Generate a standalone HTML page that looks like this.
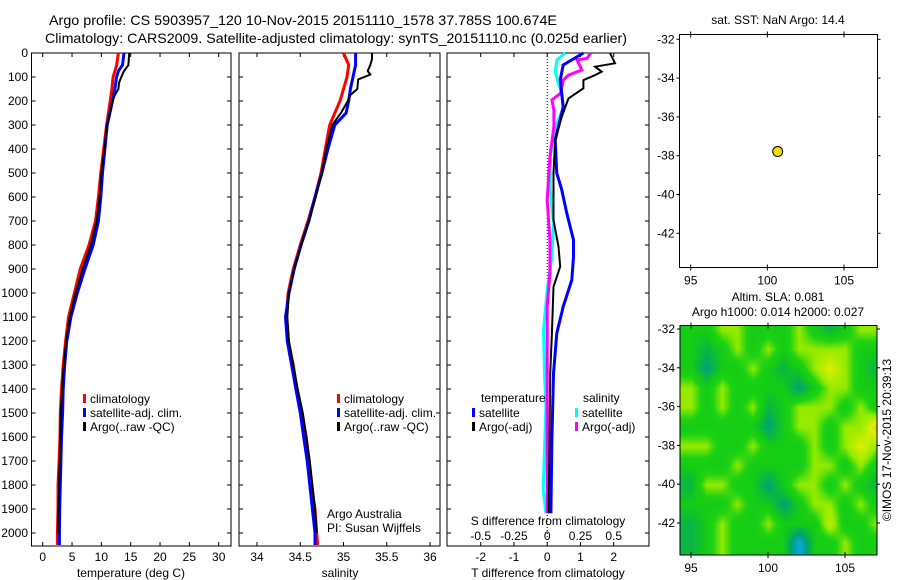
<!DOCTYPE html>
<html><head><meta charset="utf-8"><style>
html,body{margin:0;padding:0;background:#fff;}
svg{display:block;font-family:"Liberation Sans",sans-serif;}
text{fill:#000;}
</style></head><body>
<svg id="fig" width="900" height="580" viewBox="0 0 900 580" xmlns="http://www.w3.org/2000/svg">
<rect width="900" height="580" fill="#fff"/>
<text x="49" y="25" font-size="14" textLength="508" lengthAdjust="spacingAndGlyphs">Argo profile: CS 5903957_120 10-Nov-2015 20151110_1578 37.785S 100.674E</text>
<text x="45" y="43" font-size="14" textLength="582" lengthAdjust="spacingAndGlyphs">Climatology: CARS2009. Satellite-adjusted climatology: synTS_20151110.nc (0.025d earlier)</text>
<text x="778" y="24" font-size="12" text-anchor="middle">sat. SST: NaN Argo: 14.4</text>
<text x="778" y="301" font-size="12" text-anchor="middle">Altim. SLA: 0.081</text>
<text x="778" y="316" font-size="12" text-anchor="middle">Argo h1000: 0.014 h2000: 0.027</text>
<text transform="translate(891,440) rotate(-90)" font-size="12" text-anchor="middle">©IMOS 17-Nov-2015 20:39:13</text>
<text x="327" y="518" font-size="12">Argo Australia</text>
<text x="327" y="532" font-size="12">PI: Susan Wijffels</text>
<g id="g"></g>
</svg>
<script>
// ---- data ----
var tDepth = [0,50,75,100,150,200,300,400,500,600,700,800,900,1000,1100,1200,1300,1400,1500,1600,1700,1800,1900,2000,2050];
var tClim  = [12.9,12.6,12.3,12.0,11.8,11.5,10.9,10.4,9.9,9.5,9.0,7.9,6.4,5.4,4.4,3.9,3.5,3.2,3.0,2.95,2.8,2.6,2.6,2.5,2.5];
var tSat   = [13.85,13.6,12.9,12.6,12.3,11.9,11.0,10.6,10.2,9.9,9.5,8.6,7.2,5.9,4.8,4.1,3.75,3.5,3.4,3.2,3.1,3.0,2.9,2.85,2.85];
var argoDepth = [0,50,75,100,125,150,175,200,250,300,400,500,600,700,800,900,1000,1100,1200,1300,1400,1500,1600,1700,1800,1900,2000];
var tArgo  = [14.75,14.6,13.85,13.4,13.0,12.9,12.3,11.9,11.5,11.0,10.5,10.0,9.7,9.2,8.2,6.8,5.6,4.6,4.0,3.6,3.3,3.1,3.0,2.9,2.8,2.7,2.6];
var sDepth = [0,50,100,150,200,250,300,400,500,600,700,800,900,1000,1100,1200,1300,1400,1500,1600,1700,1800,1900,2000,2050];
var sClim  = [35.00,35.06,35.04,35.00,34.96,34.90,34.84,34.79,34.74,34.67,34.59,34.50,34.42,34.36,34.34,34.36,34.42,34.46,34.52,34.57,34.60,34.63,34.67,34.69,34.70];
var sSat   = [35.14,35.14,35.11,35.08,35.06,35.03,34.90,34.82,34.75,34.67,34.60,34.51,34.43,34.37,34.33,34.35,34.40,34.45,34.50,34.54,34.58,34.61,34.64,34.67,34.67];
var sArgoDepth = [0,25,50,75,90,110,150,175,200,250,300,400,500,600,700,800,900,1000,1100,1200,1300,1400,1500,1600,1700,1800,1900,2000];
var sArgo  = [35.33,35.33,35.31,35.28,35.31,35.17,35.16,35.08,35.05,34.97,34.87,34.80,34.75,34.68,34.60,34.51,34.43,34.37,34.35,34.37,34.42,34.47,34.53,34.57,34.61,34.64,34.67,34.69];
var dtSatDepth = [0,50,113,224,363,501,571,668,779,849,946,1057,1168,1335,1613,1918];
var dtSat      = [1.09,0.48,0.39,0.48,0.24,0.29,0.44,0.59,0.79,0.79,0.74,0.48,0.29,0.19,0.14,0.11];
var dtArgoDepth = [0,43,57,78,92,113,147,189,265,363,501,696,807,890,974,1168,1335,1613,1918];
var dtArgo      = [1.89,2.04,1.44,1.64,1.44,1.09,1.09,0.64,0.44,0.24,0.19,0.19,0.34,0.39,0.19,0.14,0.09,0.07,0.04];
var dsSatDepth = [0,29,78,126,168,231,293,432,571,710,849,988,1154,1335,1474,1821,1918];
var dsSat      = [0.136,0.073,0.06,0.085,0.11,0.12,0.073,0.023,0.023,0.048,0.035,0,-0.028,-0.02,-0.01,-0.03,-0.01];
var dsArgoDepth = [0,22,29,71,92,113,168,196,238,307,432,613,779,918,1057,1196,1474,1918];
var dsArgo      = [0.326,0.30,0.225,0.26,0.16,0.12,0.10,0.035,0.05,0.05,0.02,0.0,0.02,0.02,0.0,0.0,0.0,0.0];
var depthTicks = [0,100,200,300,400,500,600,700,800,900,1000,1100,1200,1300,1400,1500,1600,1700,1800,1900,2000];
var tTicks = [0,5,10,15,20,25,30];
var sTicks = [34,34.5,35,35.5,36];
var sTickLabels = ["34","34.5","35","35.5","36"];
var dTTicks = [-2,-1,0,1,2];
var dSTicks = [-0.5,-0.25,0,0.25,0.5];
var dSTickLabels = ["-0.5","-0.25","0","0.25","0.5"];
var lonTicks = [95,100,105];
var latTicks = [-32,-34,-36,-38,-40,-42];
var floatLon = [100.674];
var floatLat = [-37.785];
var slaLons = [95,96,97,98,99,100,101,102,103,104,105,106,107];
var slaLats = [-32,-33,-34,-35,-36,-37,-38,-39,-40,-41,-42,-43];
var slaRow0 = [0,0,1,1,0,0,0,1,0,-0.5,0,1,1];
var slaRow1 = [0,-0.5,0,1,0,1,0,1,1,1,1,0,0];
var slaRow2 = [0,-1,0,0,1,0,-0.5,0,1,2,1,0,-0.5];
var slaRow3 = [1,0,1,0,0,0,0,-1,0,1,1,0,0];
var slaRow4 = [1,0,1,0,1,-0.5,0,1,1,1,0,1,0];
var slaRow5 = [0,0,0,0,0,-1,0,1,1,0,1,1,2.5];
var slaRow6 = [1,1,0,0,1,0,0,0,1,0,1,2,1];
var slaRow7 = [0,0,0,1,0,0,0,0,1,1,0,1,0];
var slaRow8 = [-0.5,1,1,0,0,-1,0,1,1,0,1,0,-0.5];
var slaRow9 = [0,0,0,1,0,0,-1,0,1,1,0,1,0];
var slaRow10 = [-0.5,0,1,0,0,1,0,0,0,1.5,0,0,1];
var slaRow11 = [-0.5,0,1,0,0,0,0,-2,0,0,1,0,0];
var slaGrid = [slaRow0,slaRow1,slaRow2,slaRow3,slaRow4,slaRow5,slaRow6,slaRow7,slaRow8,slaRow9,slaRow10,slaRow11];

// ---- helpers ----
var NS = "http://www.w3.org/2000/svg";
var G = document.getElementById('g');
function el(tag, attrs, parent){ var e=document.createElementNS(NS,tag); for(var k in attrs) e.setAttribute(k,attrs[k]); (parent||G).appendChild(e); return e; }
function txt(x,y,s,size,anchor,parent){ var t=el('text',{x:x,y:y,'font-size':size,'text-anchor':anchor||'start'},parent); t.textContent=s; return t; }
function lin(d0,d1,p0,p1){ return function(v){ return p0+(v-d0)/(d1-d0)*(p1-p0); }; }

var TOP=53, PB=546;
var yD = lin(0,2000,53,533);

function panel(name,x0,x1,xs,ticks,labels,ylabels){
  var g=el('g',{});
  
  
  var fr=el('rect',{x:x0,y:TOP,width:x1-x0,height:PB-TOP,fill:'none',stroke:'#000','stroke-width':1},g);
  
  
  ticks.forEach(function(v,i){
    var x=xs(v);
    el('line',{x1:x,x2:x,y1:TOP,y2:TOP+4,stroke:'#000'},g);
    el('line',{x1:x,x2:x,y1:PB,y2:PB-4,stroke:'#000'},g);
    var t=txt(x,561,labels[i],12,'middle',g);
    
    
  });
  depthTicks.forEach(function(d){
    var y=yD(d);
    el('line',{x1:x0,x2:x0+4,y1:y,y2:y,stroke:'#000'},g);
    el('line',{x1:x1,x2:x1-4,y1:y,y2:y,stroke:'#000'},g);
    if(ylabels){
      var t=txt(28,y+4,String(d),12,'end',g);
      
      
    }
  });
  return g;
}
function series(name,parent,xs,vals,depths,color,w){
  var pts=[];
  for(var i=0;i<vals.length;i++){ pts.push(xs(vals[i]).toFixed(1)+','+yD(depths[i]).toFixed(1)); }
  var p=el('polyline',{points:pts.join(' '),fill:'none',stroke:color,'stroke-width':w,'stroke-linejoin':'miter'},parent);
  
  
  return p;
}
function legendEntry(name,parent,x,y,color,label){
  var r=el('rect',{x:x,y:y-5,width:3,height:9,fill:color},parent);
  
  
  var t=txt(x+7,y+4,label,12,'start',parent);
  
  
}

// ---- panel 1: temperature ----
var xT = lin(0,30,42.7,218.7);
var p1 = panel('temperature-panel',31.5,231,xT,tTicks,tTicks.map(String),true);
series('temperature-climatology-line',p1,xT,tClim,tDepth,'#ff0000',3);
series('temperature-satellite-line',p1,xT,tSat,tDepth,'#0000ff',3);
series('temperature-argo-line',p1,xT,tArgo,argoDepth,'#000000',2);
var xl1=txt(131,577,'temperature (deg C)',12,'middle',p1);


legendEntry('legend-climatology',p1,83,399,'#ff0000','climatology');
legendEntry('legend-satellite-adj',p1,83,413,'#0000ff','satellite-adj. clim.');
legendEntry('legend-argo-raw',p1,83,427,'#000000','Argo(..raw -QC)');

// ---- panel 2: salinity ----
var xS = lin(34,36,257,430);
var p2 = panel('salinity-panel',239,440,xS,sTicks,sTickLabels,false);
series('salinity-climatology-line',p2,xS,sClim,sDepth,'#ff0000',3);
series('salinity-satellite-line',p2,xS,sSat,sDepth,'#0000ff',3);
series('salinity-argo-line',p2,xS,sArgo,sArgoDepth,'#000000',2);
var xl2=txt(340,577,'salinity',12,'middle',p2);


legendEntry('legend-climatology',p2,337,399,'#ff0000','climatology');
legendEntry('legend-satellite-adj',p2,337,413,'#0000ff','satellite-adj. clim.');
legendEntry('legend-argo-raw',p2,337,427,'#000000','Argo(..raw -QC)');

// ---- panel 3: differences ----
var xdT = lin(-2,2,480.7,613.7);
var xdS = lin(-0.5,0.5,480.7,613.7);
var p3 = panel('difference-panel',447,649,xdT,dTTicks,dTTicks.map(String),false);
var zl=el('line',{x1:xdT(0),x2:xdT(0),y1:TOP,y2:PB,stroke:'#000','stroke-dasharray':'1,2'},p3);


series('salinity-diff-satellite-line',p3,xdS,dsSat,dsSatDepth,'#00ffff',3);
series('salinity-diff-argo-line',p3,xdS,dsArgo,dsArgoDepth,'#ff00ff',3);
series('temperature-diff-satellite-line',p3,xdT,dtSat,dtSatDepth,'#0000ff',3);
series('temperature-diff-argo-line',p3,xdT,dtArgo,dtArgoDepth,'#000000',2);
dSTicks.forEach(function(v,i){
  var t=txt(xdS(v),540,dSTickLabels[i],12,'middle',p3);
  
  
});
var st=txt(548,525,'S difference from climatology',12,'middle',p3);


var tt=txt(548,577,'T difference from climatology',12,'middle',p3);


var lt=txt(481,402,'temperature',12,'start',p3);


var ls=txt(583,402,'salinity',12,'start',p3);


legendEntry('legend-t-satellite',p3,472,413,'#0000ff','satellite');
legendEntry('legend-t-argo',p3,472,427,'#000000','Argo(-adj)');
legendEntry('legend-s-satellite',p3,575,413,'#00ffff','satellite');
legendEntry('legend-s-argo',p3,575,427,'#ff00ff','Argo(-adj)');

// ---- maps ----
function mapAxes(name,x0,x1,y0,y1,xLon,yLat,g){
  lonTicks.forEach(function(v){
    var x=xLon(v);
    el('line',{x1:x,x2:x,y1:y0,y2:y0+3,stroke:'#000'},g);
    el('line',{x1:x,x2:x,y1:y1,y2:y1-3,stroke:'#000'},g);
    el('line',{x1:x,x2:x,y1:y0,y2:y0-3,stroke:'#000'},g);
    el('line',{x1:x,x2:x,y1:y1,y2:y1+3,stroke:'#000'},g);
    var t=txt(x,y1+17,String(v),12,'middle',g);
    
    
  });
  latTicks.forEach(function(v){
    var y=yLat(v);
    el('line',{x1:x0,x2:x0-3,y1:y,y2:y,stroke:'#000'},g);
    el('line',{x1:x1,x2:x1+3,y1:y,y2:y,stroke:'#000'},g);
    var t=txt(x0-5,y+4,String(v),12,'end',g);
    
    
  });
}
var m1=el('g',{});


var lonA = lin(95,105,690.7,844);
var latA = lin(-32,-42,39.3,233.3);
var f1=el('rect',{x:679.5,y:34.5,width:198,height:233,fill:'#fff',stroke:'#000'},m1);


mapAxes('location-map',679.5,877.5,34.5,267.5,lonA,latA,m1);
floatLon.forEach(function(lo,i){
  var c=el('circle',{cx:lonA(lo),cy:latA(floatLat[i]),r:5,fill:'#f5dc00',stroke:'#000','stroke-width':1},m1);
  
  
});

var m2=el('g',{});


var lonB = lin(95,105,691,845);
var latB = lin(-32,-42,329,523);
var MX0=680,MX1=877,MY0=325.5,MY1=555;
var fo=el('foreignObject',{x:MX0,y:MY0,width:MX1-MX0,height:MY1-MY0},m2);
var cv=document.createElement('canvas');
cv.width=MX1-MX0; cv.height=Math.round(MY1-MY0);
cv.style.display='block';


fo.appendChild(cv);
var cols=[[-2,[0,170,230]],[-1,[0,160,120]],[0,[20,205,20]],[0.4,[30,210,20]],[1,[150,235,0]],[2,[225,240,0]],[3,[245,150,0]]];
function cmap(v){
  if(v<=cols[0][0]) return cols[0][1];
  for(var i=1;i<cols.length;i++){ if(v<=cols[i][0]){ var a=cols[i-1],b=cols[i],f=(v-a[0])/(b[0]-a[0]); return [0,1,2].map(function(k){return Math.round(a[1][k]+f*(b[1][k]-a[1][k]));}); } }
  return cols[cols.length-1][1];
}
var ctx=cv.getContext('2d'); var img=ctx.createImageData(cv.width,cv.height);
var lonInv = function(px){ return 95+(px-691)/((845-691)/10); };
var latInv = function(py){ return -32-(py-329)/((523-329)/10); };
for(var py=0;py<cv.height;py++){
  var la=latInv(MY0+py); var fr=(slaLats[0]-la); fr=Math.max(0,Math.min(slaLats.length-1.001,fr));
  var r0=Math.floor(fr), rf=fr-r0;
  for(var px=0;px<cv.width;px++){
    var lo=lonInv(MX0+px); var fc=lo-slaLons[0]; fc=Math.max(0,Math.min(slaLons.length-1.001,fc));
    var c0=Math.floor(fc), cf=fc-c0;
    var v=slaGrid[r0][c0]*(1-cf)*(1-rf)+slaGrid[r0][c0+1]*cf*(1-rf)+slaGrid[r0+1][c0]*(1-cf)*rf+slaGrid[r0+1][c0+1]*cf*rf;
    var c=cmap(v); var o=(py*cv.width+px)*4;
    img.data[o]=c[0]; img.data[o+1]=c[1]; img.data[o+2]=c[2]; img.data[o+3]=255;
  }
}
ctx.putImageData(img,0,0);
var f2=el('rect',{x:MX0,y:MY0,width:MX1-MX0,height:MY1-MY0,fill:'none',stroke:'#000'},m2);


mapAxes('sla-map',MX0,MX1,MY0,MY1,lonB,latB,m2);
</script>
</body></html>
